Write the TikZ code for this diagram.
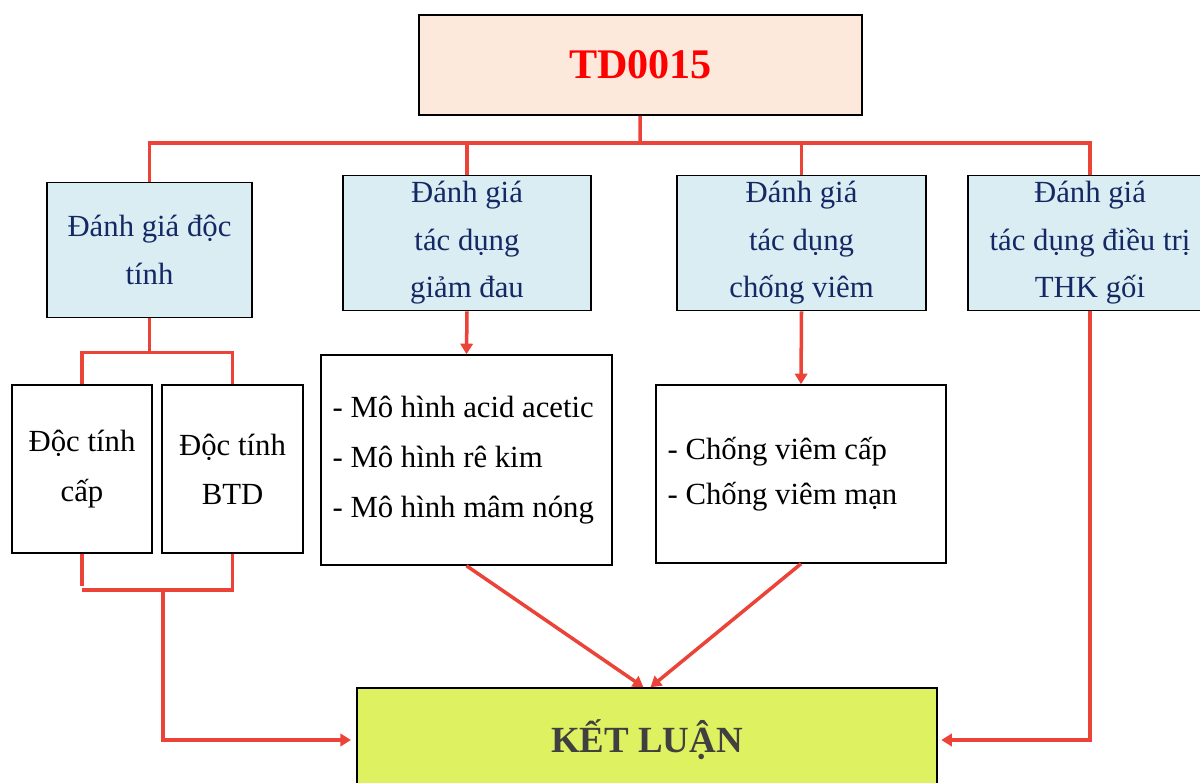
\documentclass[tikz,border=0pt]{standalone}
\usepackage{fontspec}
\setmainfont{Liberation Serif}
\usetikzlibrary{arrows.meta}
\definecolor{lineRed}{RGB}{236, 67, 56}
\definecolor{boxPeach}{RGB}{252, 233, 219}
\definecolor{boxBlue}{RGB}{218, 237, 243}
\definecolor{boxLime}{RGB}{222, 241, 96}
\definecolor{textNavy}{RGB}{20, 40, 100}
\definecolor{textGray}{RGB}{64, 64, 64}

\begin{document}
\begin{tikzpicture}[x=0.02cm, y=-0.02cm,
    box/.style={draw=black, line width=0.9pt, inner sep=0pt, align=center, font=\fontsize{17.5}{28}\selectfont},
    evalbox/.style={box, fill=boxBlue, text=textNavy, minimum height=2.7cm, font=\fontsize{17.5}{27}\selectfont},
    listtext/.style={anchor=west, xshift=0.24cm, align=left, inner sep=0pt},
    link/.style={draw=lineRed, line width=2pt},
    arrow/.style={link, -{Triangle[length=6pt, width=7pt]}}]
        \useasboundingbox (0,0) rectangle (1200,783);

        % boxes
        \node[box, fill=boxPeach, text=red, minimum width=8.86cm, minimum height=2cm,
              font=\fontsize{24}{30}\selectfont\bfseries] (top) at (640.5,65) {TD0015};
        \node[evalbox, minimum width=4.1cm] (tox) at (149.5,250) {Đánh giá độc\\tính};
        \node[evalbox, minimum width=4.96cm] (pain) at (467,243) {Đánh giá\\tác dụng\\giảm đau};
        \node[evalbox, minimum width=4.98cm] (inflam) at (801.5,243) {Đánh giá\\tác dụng\\chống viêm};
        \node[evalbox, minimum width=4.88cm] (oa) at (1090,243) {Đánh giá\\tác dụng điều trị\\THK gối};
        \node[box, minimum width=2.8cm, minimum height=3.36cm] (acute) at (82,469) {Độc tính\\cấp};
        \node[box, minimum width=2.82cm, minimum height=3.36cm] (subchr) at (232.5,469) {Độc tính\\BTD};
        \node[box, minimum width=5.82cm, minimum height=4.2cm,
              label={[listtext, font=\fontsize{17.5}{28.5}\selectfont]west:{- Mô hình acid acetic\\- Mô hình rê kim\\- Mô hình mâm nóng}}]
             (painlist) at (466.5,460) {};
        \node[box, minimum width=5.8cm, minimum height=3.56cm,
              label={[listtext, font=\fontsize{17.5}{25.5}\selectfont]west:{- Chống viêm cấp\\- Chống viêm mạn}}]
             (inflamlist) at (801,474) {};
        \node[box, fill=boxLime, text=textGray, minimum width=11.6cm, minimum height=2.08cm,
              font=\fontsize{21}{26}\selectfont\bfseries] (result) at (647,740) {KẾT LUẬN};

        % top bus
        \coordinate (bus) at (640,143);
        \draw[link] (top) -- (bus);
        \draw[link] (tox.north) -- (tox.north |- bus) -- (oa.north |- bus) -- (oa.north);
        \draw[link] (pain.north) -- (pain.north |- bus);
        \draw[link] (inflam.north) -- (inflam.north |- bus);

        % toxicity branch
        \draw[link] (tox.south) -- ++(0,34) coordinate (split);
        \draw[link] (acute.north) |- (split) -| (subchr.north);
        \coordinate (merge) at (163,590);
        \draw[link] (acute.south) -- ++(0,32);
        \draw[link] (acute.south |- merge) -| (subchr.south);
        \draw[arrow, shorten >=3pt] (merge) |- (result.west);

        % other branches
        \draw[arrow] (pain.south) -- (painlist.north);
        \draw[arrow] (inflam.south) -- (inflamlist.north);
        \draw[arrow] (painlist.south) -- ([xshift=-2pt]result.north);
        \draw[arrow] (inflamlist.south) -- ([xshift=2pt]result.north);
        \draw[arrow, shorten >=2pt] (oa.south) |- (result.east);
      \end{tikzpicture}
\end{document}
